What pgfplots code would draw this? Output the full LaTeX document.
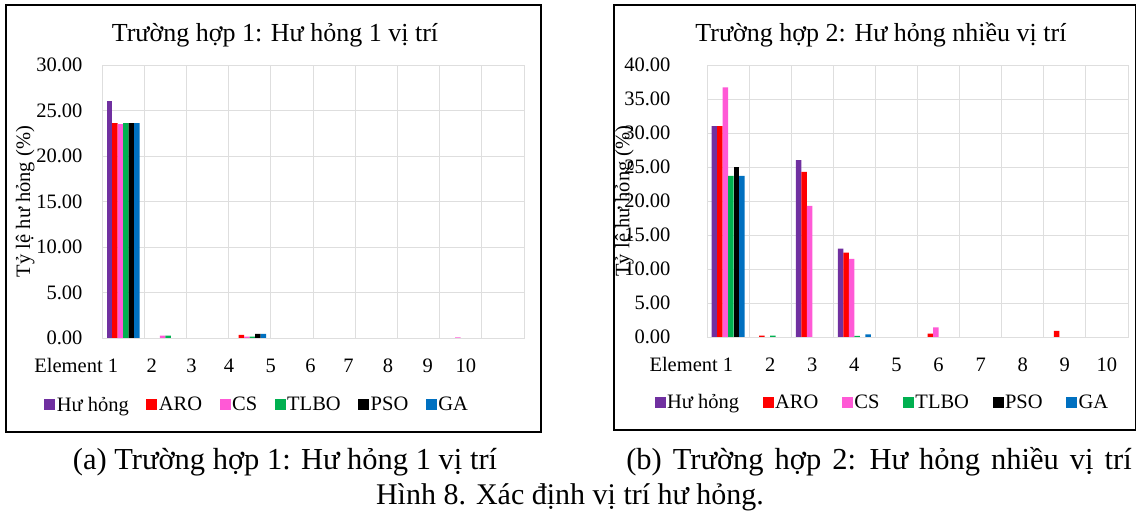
\documentclass[border=0pt]{standalone}
\usepackage{fontspec}
\setmainfont{Liberation Serif}
\usepackage{pgfplots}
\pgfplotsset{compat=1.18}
\definecolor{hh}{HTML}{7030A0}
\definecolor{aro}{HTML}{FF0000}
\definecolor{cs}{HTML}{FF59D6}
\definecolor{tlbo}{HTML}{00B050}
\definecolor{pso}{HTML}{000000}
\definecolor{ga}{HTML}{0070C0}
\newcommand{\tfont}{\rmfamily\fontsize{20.5bp}{24bp}\selectfont}
\pgfplotsset{
  excelbar/.style={
    scale only axis,
    ybar=0pt, bar width=5.5bp,
    xmin=0.5, xmax=10.5,
    ymin=0,
    ymajorgrids, xminorgrids,
    minor xtick={1.5,2.5,...,9.5},
    grid style={draw=black!13, line width=0.9bp},
    minor grid style={draw=black!13, line width=0.9bp},
    axis line style={draw=black!13, line width=0.9bp},
    major tick length=0pt, minor tick length=0pt,
    tick style={draw=none},
    tick label style={font=\tfont},
    xticklabel style={text height=14bp, text depth=4bp, yshift=-17bp},
    yticklabel style={xshift=-16bp},
    label style={font=\tfont},
    legend columns=6,
    legend image code/.code={\fill[#1] (0bp,-5.5bp) rectangle (11bp,5.5bp);},
    legend style={draw=none, fill=none, anchor=center,
      font=\tfont,
      nodes={inner sep=1.5bp},
      /tikz/every even column/.append style={column sep=16bp}},
  }
}
\begin{document}
\begin{tikzpicture}[x=1bp,y=1bp]
\path[use as bounding box] (0,0) rectangle (1137,515);
\draw[line width=1.3bp] (6,83) rectangle (541,510);
\draw[line width=1.3bp] (614,85) rectangle (1135.5,510);
\node[anchor=base, font=\rmfamily\fontsize{26bp}{30bp}\selectfont] at (275,473) {Trường hợp 1: Hư hỏng 1 vị trí};
\node[anchor=base, font=\rmfamily\fontsize{26bp}{30bp}\selectfont] at (881,473) {Trường hợp 2: Hư hỏng nhiều vị trí};
\node[anchor=base, font=\rmfamily\fontsize{30.5bp}{34bp}\selectfont] at (285,45) {(a) Trường hợp 1: Hư hỏng 1 vị trí};
\node[anchor=base, font=\rmfamily\fontsize{30.5bp}{34bp}\selectfont] at (879,45) {\spaceskip=11bp\relax (b) Trường hợp 2: Hư hỏng nhiều vị trí};
\node[anchor=base, font=\rmfamily\fontsize{30bp}{34bp}\selectfont] at (570,10) {Hình 8. Xác định vị trí hư hỏng.};

\begin{axis}[excelbar,
  at={(102bp,177bp)}, anchor=south west,
  width=422bp, height=273bp,
  ymax=30, ytick={0,5,...,30},
  yticklabels={0.00,5.00,10.00,15.00,20.00,25.00,30.00},
  xtick={0.76,1.68,2.62,3.51,4.5,5.44,6.34,7.28,8.22,9.12},
  xticklabels={\llap{Element }1,2,3,4,5,6,7,8,9,10},
  ylabel={Tỷ lệ hư hỏng (\%)},
  ylabel style={at={(axis description cs:-0.182,0.5)}, anchor=center},
  legend style={at={(axis description cs:0.367,-0.245)}},
]
\addplot[fill=hh, draw=none] coordinates {(1,26.0)};
\addplot[fill=aro, draw=none] coordinates {(1,23.6) (4,0.35)};
\addplot[fill=cs, draw=none] coordinates {(1,23.5) (2,0.25) (4,0.15) (9,0.08)};
\addplot[fill=tlbo, draw=none] coordinates {(1,23.6) (2,0.25) (4,0.15)};
\addplot[fill=pso, draw=none] coordinates {(1,23.6) (4,0.45)};
\addplot[fill=ga, draw=none] coordinates {(1,23.6) (4,0.45)};
\legend{Hư hỏng,ARO,CS,TLBO,PSO,GA}
\end{axis}

\begin{axis}[excelbar,
  at={(707bp,178bp)}, anchor=south west,
  width=421bp, height=272bp,
  ymax=40, ytick={0,5,...,40},
  yticklabels={0.00,5.00,10.00,15.00,20.00,25.00,30.00,35.00,40.00},
  yticklabel style={xshift=-17bp},
  xtick={1,2,...,10},
  xticklabels={\llap{Element }1,2,3,4,5,6,7,8,9,10},
  ylabel={Tỷ lệ hư hỏng (\%)},
  ylabel style={at={(axis description cs:-0.196,0.5)}, anchor=center},
  legend style={at={(axis description cs:0.416,-0.239)},
    /tikz/every even column/.append style={column sep=22bp}},
]
\addplot[fill=hh, draw=none] coordinates {(1,31.0) (3,26.0) (4,13.0)};
\addplot[fill=aro, draw=none] coordinates {(1,31.0) (2,0.2) (3,24.3) (4,12.4) (6,0.5) (9,0.9)};
\addplot[fill=cs, draw=none] coordinates {(1,36.7) (3,19.3) (4,11.5) (6,1.4)};
\addplot[fill=tlbo, draw=none] coordinates {(1,23.7) (2,0.2) (4,0.15)};
\addplot[fill=pso, draw=none] coordinates {(1,25.0)};
\addplot[fill=ga, draw=none] coordinates {(1,23.7) (4,0.4)};
\legend{Hư hỏng,ARO,CS,TLBO,PSO,GA}
\end{axis}
\end{tikzpicture}
\end{document}
